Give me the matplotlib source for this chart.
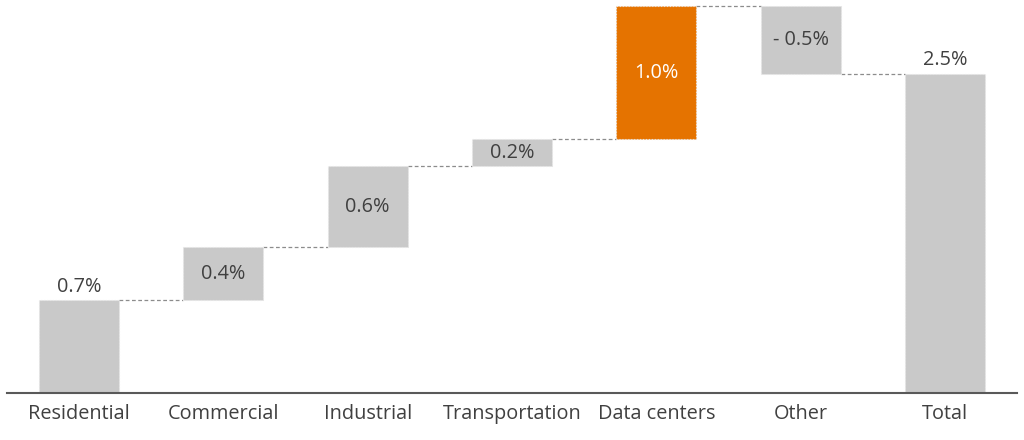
import matplotlib.pyplot as plt
import numpy as np

plt.rcParams['font.family'] = ['Open Sans', 'DejaVu Sans']

# waterfall data (percentage points), labels as shown on the chart
categories = ['Residential', 'Commercial', 'Industrial', 'Transportation',
              'Data centers', 'Other', 'Total']
steps = [0.725, 0.415, 0.635, 0.21, 1.045, -0.53]
step_labels = ['0.7%', '0.4%', '0.6%', '0.2%', '1.0%', '- 0.5%']
total_label = '2.5%'

gray = '#c9c9c9'
orange = '#e57300'
txt = '#404040'
fs = 14.3

fig = plt.figure(figsize=(10.24, 4.4), dpi=100)
ax = fig.add_axes([7 / 1024, 47 / 440, 1010 / 1024, 393 / 440])

steps = np.array(steps)
ends = np.cumsum(steps)
starts = ends - steps
total = ends[-1]

bottoms = np.append(np.minimum(starts, ends), 0)
heights = np.append(np.abs(steps), total)
colors = [gray] * 4 + [orange] + [gray] + [gray]
x = np.arange(len(categories))
w = 0.555

ax.bar(x, heights, bottom=bottoms, width=w, color=colors,
       edgecolor='#e6e6e6', linewidth=0.8, linestyle=':', zorder=2)

# connectors between bars
levels = list(ends)
for i, lv in enumerate(levels):
    ax.plot([x[i] + w / 2, x[i + 1] - w / 2], [lv, lv], color='#8c8c8c',
            linestyle=(0, (3, 2)), linewidth=0.9, zorder=1)

# value labels
for i, lab in enumerate(step_labels):
    if i == 0:
        ax.text(x[i], heights[i] + 0.03, lab, ha='center', va='bottom',
                fontsize=fs, color=txt)
    else:
        c = 'white' if i == 4 else txt
        ax.text(x[i], bottoms[i] + heights[i] / 2, lab, ha='center',
                va='center', fontsize=fs, color=c)
ax.text(x[-1], total + 0.03, total_label, ha='center', va='bottom',
        fontsize=fs, color=txt)

ax.set_xlim(-0.5, 6.5)
ax.set_ylim(0, 393 / 127.8)
ax.set_xticks(x)
ax.set_xticklabels(categories, fontsize=fs, color=txt)
ax.tick_params(axis='x', length=0, pad=8)
ax.set_yticks([])
for s in ['top', 'right', 'left']:
    ax.spines[s].set_visible(False)
ax.spines['bottom'].set_color('#595959')
ax.spines['bottom'].set_linewidth(1.5)
ax.spines['bottom'].set_zorder(3)

fig.savefig('out.png', dpi=100)
